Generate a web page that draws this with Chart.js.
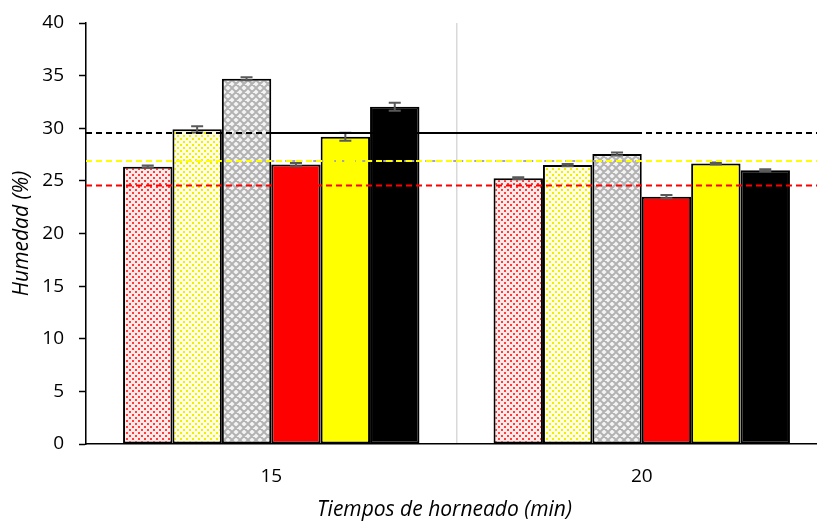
<!DOCTYPE html>
<html>
<head>
<meta charset="utf-8">
<script src="https://cdn.jsdelivr.net/npm/chart.js@4.4.1/dist/chart.umd.min.js"></script>
<style>
  html, body { margin: 0; padding: 0; overflow: hidden; background: #fff; }
  #wrap { width: 830px; height: 522px; }
</style>
</head>
<body>
<div id="wrap"><canvas id="c" width="830" height="522"></canvas></div>
<script>
// Baking times (min)
const categories = ['15', '20'];

// Moisture (%) per formulation, one value per baking time
const moistureDottedRed    = [26.35, 25.25];
const moistureDottedYellow = [29.9, 26.5];
const moistureHatchedGray  = [34.7, 27.55];
const moistureRed          = [26.55, 23.5];
const moistureYellow       = [29.2, 26.65];
const moistureBlack        = [32.05, 26.0];

// Standard deviations
const sdDottedRed    = [0.1, 0.1];
const sdDottedYellow = [0.3, 0.1];
const sdHatchedGray  = [0.15, 0.15];
const sdRed          = [0.15, 0.15];
const sdYellow       = [0.38, 0.1];
const sdBlack        = [0.38, 0.1];

// Reference moisture levels (%)
const refBlack  = 29.55;
const refYellow = 26.9;
const refRed    = 24.55;

const yTicks = [0, 5, 10, 15, 20, 25, 30, 35, 40];

const xTitle = 'Tiempos de horneado (min)';
const yTitle = 'Humedad (%)';

const FONT = 'Open Sans';

const ctx = document.getElementById('c').getContext('2d');

// staggered dot fill
function dotPattern(bg, dot) {
  const s = 6;
  const t = document.createElement('canvas');
  t.width = s; t.height = s;
  const g = t.getContext('2d');
  g.fillStyle = bg; g.fillRect(0, 0, s, s);
  g.fillStyle = dot;
  g.fillRect(0, 0, 2, 2);
  g.fillRect(3, 3, 2, 2);
  return ctx.createPattern(t, 'repeat');
}

// diamond lattice fill
function hatchPattern() {
  const s = 8;
  const t = document.createElement('canvas');
  t.width = s; t.height = s;
  const g = t.getContext('2d');
  g.fillStyle = '#f4f4f4'; g.fillRect(0, 0, s, s);
  g.strokeStyle = '#b3b3b3'; g.lineWidth = 2;
  g.beginPath();
  for (let k = -1; k <= 1; k++) {
    g.moveTo(k * s, 0); g.lineTo(k * s + s, s);
    g.moveTo(k * s + s, 0); g.lineTo(k * s, s);
  }
  g.stroke();
  return ctx.createPattern(t, 'repeat');
}

const series = [
  { data: moistureDottedRed,    sd: sdDottedRed,    fill: dotPattern('#ffeaea', '#ff3c3c') },
  { data: moistureDottedYellow, sd: sdDottedYellow, fill: dotPattern('#ffffe6', '#f2ee00') },
  { data: moistureHatchedGray,  sd: sdHatchedGray,  fill: hatchPattern() },
  { data: moistureRed,          sd: sdRed,          fill: '#ff0000' },
  { data: moistureYellow,       sd: sdYellow,       fill: '#ffff00' },
  { data: moistureBlack,        sd: sdBlack,        fill: '#000000' }
];

const overlay = {
  id: 'overlay',
  afterDatasetsDraw(chart) {
    const { ctx: c, chartArea: area, scales: { x, y } } = chart;
    c.save();
    // error bars
    c.strokeStyle = '#595959';
    c.lineWidth = 2;
    series.forEach((s, i) => {
      const meta = chart.getDatasetMeta(i);
      meta.data.forEach((bar, j) => {
        const v = s.data[j], e = s.sd[j];
        const yt = y.getPixelForValue(v + e);
        const yb = y.getPixelForValue(v - e);
        const xp = bar.x;
        c.beginPath();
        c.moveTo(xp, yt); c.lineTo(xp, yb);
        c.moveTo(xp - 6, yt); c.lineTo(xp + 6, yt);
        c.moveTo(xp - 6, yb); c.lineTo(xp + 6, yb);
        c.stroke();
      });
    });

    const xStart = x.getPixelForValue(0);
    const xEnd = x.getPixelForValue(1);
    const hline = (val, color, width, dash, x0, x1) => {
      const yp = y.getPixelForValue(val);
      c.strokeStyle = color; c.lineWidth = width; c.setLineDash(dash);
      c.beginPath(); c.moveTo(x0, yp); c.lineTo(x1, yp); c.stroke();
    };
    // traces joining the two baking times
    hline(refBlack, '#000000', 1.8, [], xStart, xEnd);
    hline(refYellow, '#a6a6a6', 2, [3, 4], xStart, xEnd);
    // dashed reference levels
    hline(refBlack, '#000000', 2, [6, 4], area.left, area.right);
    hline(refYellow, '#ffff00', 2, [6, 4], area.left, area.right);
    hline(refRed, '#ff0000', 2, [6, 4], area.left, area.right);
    c.restore();
  },
  afterDraw(chart) {
    // x axis title, centred under the visible part of the axis
    const c = chart.ctx;
    const x = chart.scales.x;
    c.save();
    c.font = 'italic 21px "' + FONT + '"';
    c.fillStyle = '#000000';
    c.textAlign = 'center';
    c.textBaseline = 'middle';
    c.fillText(xTitle, (x.left + 803) / 2, 510);
    c.restore();
  }
};

new Chart(ctx, {
  type: 'bar',
  data: {
    labels: categories,
    datasets: series.map((s, i) => ({
      label: 'F' + (i + 1),
      data: s.data,
      backgroundColor: s.fill,
      borderColor: '#000000',
      borderWidth: 2,
      borderSkipped: false,
      categoryPercentage: 0.8,
      barPercentage: 1.0
    }))
  },
  options: {
    responsive: false,
    animation: false,
    layout: { padding: { left: 0, right: 3, top: 23, bottom: 0 } },
    plugins: { legend: { display: false }, tooltip: { enabled: false } },
    scales: {
      x: {
        grid: { display: true, offset: true, color: '#d9d9d9', lineWidth: 1.5, drawTicks: false },
        border: { color: '#000000', width: 1.5 },
        ticks: { padding: 21, color: '#000000', font: { family: FONT, size: 19 } },
        title: { display: false },
        afterFit(scale) { scale.height = 78; scale.paddingLeft = 0; scale.paddingRight = 0; }
      },
      y: {
        min: 0, max: 40,
        afterBuildTicks(scale) { scale.ticks = yTicks.map(v => ({ value: v })); },
        ticks: { padding: 15, color: '#000000', font: { family: FONT, size: 19 } },
        grid: { drawOnChartArea: false, drawTicks: true, tickLength: 7, tickColor: '#000000', tickWidth: 1.5 },
        border: { color: '#000000', width: 1.5 },
        title: {
          display: true, text: yTitle, color: '#000000',
          font: { family: FONT, size: 21, style: 'italic' }, padding: { top: 9, bottom: 0 }
        },
        afterFit(scale) { scale.width = 86; scale.paddingTop = 0; scale.paddingBottom = 0; }
      }
    }
  },
  plugins: [overlay]
});
</script>
</body>
</html>
